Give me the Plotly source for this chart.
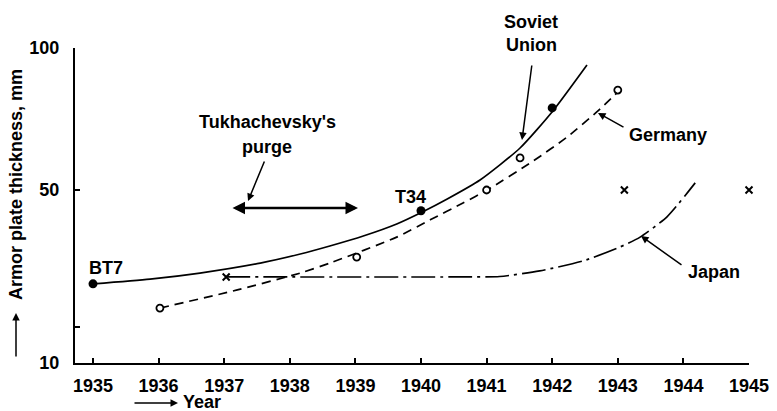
import numpy as np
import plotly.graph_objects as go

# ---------------- data (years, armor thickness in mm) ----------------
soviet_years = [1935.0, 1935.87, 1936.63, 1937.55, 1938.16, 1938.61, 1939.12, 1939.63, 1940.02,
                1940.40, 1940.90, 1941.51, 1942.01, 1942.53]
soviet_mm = [28.3, 29.4, 30.8, 33.1, 35.2, 37.05, 39.36, 42.14, 44.91, 47.92, 53.52, 64.79, 77.82, 94.0]
soviet_pt_years = [1935.0, 1940.0, 1942.0]
soviet_pt_mm = [28.3, 45.2, 78.9]

germany_years = [1936.02, 1937.20, 1938.16, 1938.61, 1939.63, 1940.14, 1940.64, 1941.01, 1941.71, 1942.23, 1942.68, 1943.03]
germany_mm = [22.7, 26.9, 30.8, 33.1, 39.1, 43.1, 47.0, 50.0, 60.2, 68.7, 77.5, 85.2]
germany_pt_years = [1936.02, 1939.02, 1941.0, 1941.51, 1943.0]
germany_pt_mm = [22.7, 34.5, 50.0, 61.3, 85.2]

japan_years = [1937.03, 1940.59, 1941.2, 1941.81, 1942.47, 1943.03, 1943.34, 1943.75, 1944.18]
japan_mm = [29.9, 29.9, 30.0, 31.3, 33.6, 36.8, 39.1, 43.8, 52.5]
japan_pt_years = [1937.03, 1943.1, 1945.0]
japan_pt_mm = [29.9, 50.0, 50.0]

x_ticks = list(range(1935, 1946))
y_tick_vals = [10, 50, 100]
y_tick_text = ["10", "50", "100"]
y_minor = [18.3]

# ---------------- axis scale of the original (non-uniform) ----------------
SCALE_MM = [10, 50, 100]
SCALE_POS = [0, 173, 315]


def yscale(v):
    return np.interp(np.asarray(v, dtype=float), SCALE_MM, SCALE_POS)


W, H = 777, 411
ML, MR, MT, MB = 75, 28, 48, 48
PW, PH = W - ML - MR, H - MT - MB


def px(x):
    return (x - ML) / PW


def py(y):
    return (H - MB - y) / PH


FONT = "Liberation Sans, Arial, sans-serif"
FS = 18
TFONT = dict(family=FONT, size=FS, color="black", weight="bold")

fig = go.Figure()

fig.add_trace(go.Scatter(x=soviet_years, y=yscale(soviet_mm), mode="lines",
                         line=dict(color="black", width=1.7, shape="spline", smoothing=0.6),
                         showlegend=False))
fig.add_trace(go.Scatter(x=soviet_pt_years, y=yscale(soviet_pt_mm), mode="markers",
                         marker=dict(color="black", size=9, symbol="circle"),
                         showlegend=False))

fig.add_trace(go.Scatter(x=germany_years, y=yscale(germany_mm), mode="lines",
                         line=dict(color="black", width=1.7, dash="9px,6px", shape="spline", smoothing=0.6),
                         showlegend=False))
fig.add_trace(go.Scatter(x=germany_pt_years, y=yscale(germany_pt_mm), mode="markers",
                         marker=dict(color="white", size=7, symbol="circle",
                                     line=dict(color="black", width=1.8)),
                         showlegend=False))

fig.add_trace(go.Scatter(x=japan_years, y=yscale(japan_mm), mode="lines",
                         line=dict(color="black", width=1.7, dash="24px,5px,3px,5px", shape="spline", smoothing=0.6),
                         showlegend=False))
fig.add_trace(go.Scatter(x=japan_pt_years, y=yscale(japan_pt_mm), mode="markers",
                         marker=dict(color="black", size=7, symbol="x-thin",
                                     line=dict(color="black", width=2)),
                         cliponaxis=False, showlegend=False))

x0 = 1935 - (93 - ML) / 65.6
fig.update_xaxes(range=[x0, 1945], tickvals=x_ticks, ticktext=[str(t) for t in x_ticks],
                 showgrid=False, zeroline=False, showline=True, linecolor="black", linewidth=2,
                 ticks="inside", ticklen=5, tickwidth=1.5, tickcolor="black",
                 tickfont=TFONT, ticklabelstandoff=5)
fig.update_yaxes(range=[0, 315], tickvals=list(yscale(y_tick_vals)) + list(yscale(y_minor)),
                 ticktext=y_tick_text + [""],
                 showgrid=False, zeroline=False, showline=True, linecolor="black", linewidth=2,
                 ticks="inside", ticklen=5, tickwidth=1.5, tickcolor="black",
                 tickfont=TFONT, ticklabelstandoff=10)

ann = []


def text(x, y, s, xanchor="center", angle=0):
    ann.append(dict(x=px(x), y=py(y), xref="paper", yref="paper", text=s, showarrow=False,
                    xanchor=xanchor, yanchor="middle", textangle=angle, font=TFONT))


def arrow(x_tail, y_tail, x_head, y_head, width=1.5, head=2, size=1.0, both=False):
    ann.append(dict(x=px(x_head), y=py(y_head), ax=x_tail - x_head, ay=y_tail - y_head,
                    xref="paper", yref="paper", axref="pixel", ayref="pixel",
                    text="", showarrow=True, arrowhead=head, arrowsize=size,
                    arrowwidth=width, arrowcolor="black",
                    arrowside="end+start" if both else "end", startarrowhead=head,
                    startarrowsize=size, standoff=0, startstandoff=0))


text(106, 268, "BT7")
text(410, 197, "T34")
text(267, 122, "Tukhachevsky's")
text(267, 147, "purge")
text(531, 22, "Soviet")
text(531, 45, "Union")
text(627, 135, "Germany", xanchor="left")
text(686, 272, "Japan", xanchor="left")
text(16, 185, "Armor plate thickness, mm", angle=-90)
text(181, 402, "Year", xanchor="left")

arrow(265, 160, 248, 201)                         # purge
arrow(231, 208, 358, 208, width=2.5, both=True)   # purge period
arrow(532, 64, 522, 140)                          # Soviet Union
arrow(625, 128, 598, 113)                         # Germany
arrow(683, 266, 641, 236)                         # Japan
arrow(16, 358, 16, 313)                           # y title arrow
arrow(133, 403, 178, 403)                         # x title arrow

fig.update_layout(width=W, height=H, margin=dict(l=ML, r=MR, t=MT, b=MB, autoexpand=False),
                  paper_bgcolor="white", plot_bgcolor="white", annotations=ann,
                  font=dict(family=FONT, size=FS, color="black"))

fig.write_html("out.html", config={"displayModeBar": False},
               post_script="document.body.style.margin='0px';")
